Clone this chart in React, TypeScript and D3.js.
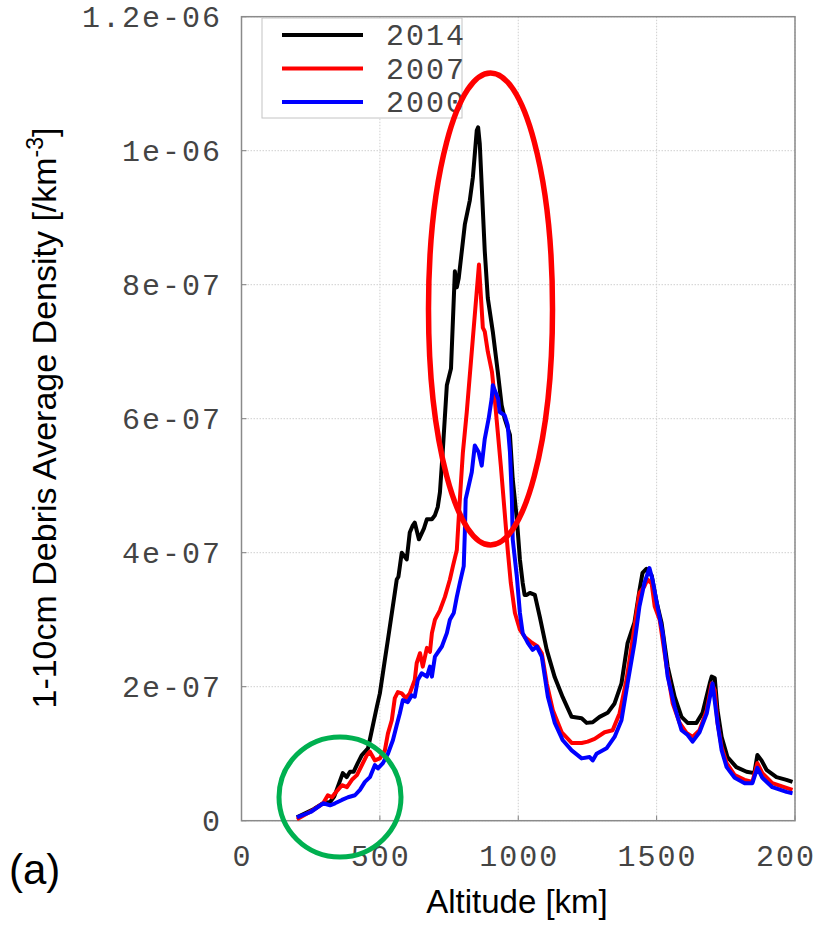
import React from 'react';
import * as d3 from 'd3';

const W = 817;
const H = 926;
const UNIT = 1e-7;

const xTicks = [0, 500, 1000, 1500, 2000];
const xTickLabels = ['0', '500', '1000', '1500', '2000'];
const yTicks = [0, 2e-7, 4e-7, 6e-7, 8e-7, 1e-6, 1.2e-6];
const yTickLabels = ['0', '2e-07', '4e-07', '6e-07', '8e-07', '1e-06', '1.2e-06'];

const seriesNames = ['2014', '2007', '2000'];
const seriesColors = ['#000000', '#ff0000', '#0000ff'];

// altitude [km] and density [x1e-7 /km^3]
const alt2014 = [200,260,295,320,335,366,380,392,405,420,435,457,471,489,500,518,529,554,561,567,579,597,608,618,626,641,659,670,688,699,709,717,727,742,757,771,778,785,796,807,825,836,850,855,861,879,890,908,926,940,951,970,980,995,1006,1016,1023,1031,1042,1060,1078,1103,1132,1161,1193,1229,1247,1269,1294,1323,1348,1373,1395,1420,1438,1449,1463,1482,1500,1518,1540,1565,1590,1612,1644,1666,1692,1699,1710,1720,1735,1756,1788,1825,1853,1864,1879,1897,1933,1969,1991];
const dens2014 = [0.05,0.17,0.26,0.28,0.36,0.71,0.65,0.73,0.73,0.86,0.98,1.08,1.35,1.70,1.9,2.4,2.7,3.4,3.6,3.64,4.0,3.9,4.3,4.4,4.45,4.2,4.36,4.5,4.5,4.56,4.68,4.9,5.5,6.5,6.75,8.2,7.96,8.1,8.5,8.9,9.26,9.6,10.3,10.35,10.1,8.5,7.8,7.3,6.7,6.2,6.0,5.76,5.1,4.5,3.9,3.55,3.37,3.37,3.4,3.37,3.04,2.55,2.14,1.84,1.55,1.53,1.46,1.47,1.55,1.61,1.75,2.05,2.65,2.96,3.44,3.7,3.76,3.66,3.26,2.95,2.3,1.85,1.55,1.46,1.46,1.61,2.05,2.15,2.13,1.65,1.25,0.95,0.8,0.73,0.71,0.98,0.9,0.76,0.65,0.61,0.58];

const alt2007 = [200,259,295,312,327,338,363,381,399,417,435,453,464,482,500,518,529,543,554,565,579,594,608,626,633,645,655,670,681,688,699,717,735,753,764,778,789,800,814,836,858,872,879,890,905,915,926,937,951,962,973,988,1006,1024,1045,1070,1085,1103,1125,1157,1193,1229,1251,1276,1312,1341,1366,1391,1413,1438,1456,1467,1482,1493,1511,1536,1558,1583,1608,1630,1655,1681,1699,1710,1720,1735,1753,1782,1818,1846,1864,1882,1918,1969,1991];
const dens2007 = [0.02,0.16,0.26,0.38,0.35,0.41,0.53,0.50,0.61,0.68,0.83,0.98,1.03,0.9,0.93,1.05,1.3,1.5,1.83,1.92,1.9,1.83,1.9,2.1,2.35,2.5,2.3,2.58,2.52,2.8,3.0,3.14,3.34,3.6,3.8,4.04,4.8,5.5,6.1,7.2,8.3,7.36,7.3,7.0,6.7,6.3,5.8,5.3,4.6,4.04,3.55,3.1,2.85,2.74,2.67,2.6,2.5,2.05,1.65,1.32,1.16,1.16,1.18,1.22,1.32,1.35,1.6,2.1,2.7,3.4,3.5,3.6,3.54,3.2,3.0,2.3,1.75,1.46,1.31,1.25,1.35,1.65,2.05,1.95,1.46,1.1,0.86,0.68,0.61,0.58,0.86,0.71,0.56,0.49,0.46];

const alt2000 = [200,250,295,320,338,363,385,410,428,446,464,482,493,511,529,547,561,572,583,601,615,626,637,651,670,681,688,699,724,742,753,767,778,789,803,807,810,821,832,843,857,868,879,893,904,908,927,933,951,962,970,977,980,995,1006,1016,1035,1052,1067,1085,1107,1132,1161,1193,1229,1258,1269,1283,1319,1348,1373,1395,1420,1438,1456,1474,1485,1503,1522,1540,1565,1590,1612,1630,1655,1681,1702,1720,1735,1753,1782,1818,1846,1864,1882,1918,1969,1991];
const dens2000 = [0.05,0.13,0.26,0.23,0.26,0.31,0.35,0.38,0.46,0.58,0.65,0.83,0.78,0.86,1.0,1.2,1.43,1.6,1.8,1.77,1.87,1.85,2.1,2.2,2.15,2.3,2.15,2.45,2.6,2.8,3.0,3.1,3.34,3.55,3.8,4.3,4.8,5.0,5.2,5.6,5.5,5.3,5.7,6.0,6.3,6.5,6.3,6.1,6.05,5.9,5.5,4.8,4.2,3.64,3.1,2.8,2.65,2.55,2.6,2.45,1.85,1.46,1.2,1.05,0.93,0.95,0.9,1.0,1.08,1.25,1.5,2.05,2.65,3.2,3.55,3.77,3.6,3.2,2.8,2.15,1.7,1.35,1.28,1.18,1.32,1.6,2.05,1.46,1.05,0.8,0.64,0.56,0.56,0.79,0.64,0.5,0.43,0.41];

const seriesAlt = [alt2014, alt2007, alt2000];
const seriesDens = [dens2014, dens2007, dens2000];

const PL = 241.5, PR = 795, PT = 16.7, PB = 820.7;
const MONO = '"Liberation Mono", "DejaVu Sans Mono", monospace';
const SANS = '"Liberation Sans", Arial, sans-serif';

export default function App() {
  const x = d3.scaleLinear().domain([0, 2000]).range([PL, PR]);
  const y = d3.scaleLinear().domain([0, 1.2e-6]).range([PB, PT]);
  const line = d3.line<[number, number]>().x(d => x(d[0])).y(d => y(d[1] * UNIT));

  const order = [0, 1, 2];

  return (
    <div>
      <style>{`body{margin:0;}`}</style>
      <svg width={W} height={H} style={{ display: 'block', overflow: 'hidden', background: '#fff' }}>
        {/* grid */}
        {xTicks.map((t, i) => (
          <line key={'gx' + i} x1={x(t)} x2={x(t)} y1={PT} y2={PB} stroke="#cfcfcf" strokeWidth={1} strokeDasharray="1.5,1.5" />
        ))}
        {yTicks.map((t, i) => (
          <line key={'gy' + i} x1={PL} x2={PR} y1={y(t)} y2={y(t)} stroke="#cfcfcf" strokeWidth={1} strokeDasharray="1.5,1.5" />
        ))}
        {/* tick marks */}
        {xTicks.map((t, i) => (
          <line key={'tx' + i} x1={x(t)} x2={x(t)} y1={PB} y2={PB - 5} stroke="#808080" strokeWidth={1} />
        ))}
        {yTicks.map((t, i) => (
          <line key={'ty' + i} x1={PL} x2={PL + 5} y1={y(t)} y2={y(t)} stroke="#808080" strokeWidth={1} />
        ))}
        {/* frame */}
        <rect x={PL} y={PT} width={PR - PL} height={PB - PT} fill="none" stroke="#8a8a8a" strokeWidth={1.5} />

        {/* data */}
        {order.map(s => (
          <path
            key={'s' + s}
            d={line(seriesAlt[s].map((a, i) => [a, seriesDens[s][i]] as [number, number])) || ''}
            fill="none"
            stroke={seriesColors[s]}
            strokeWidth={4}
            strokeLinejoin="round"
          />
        ))}

        {/* y tick labels */}
        {yTicks.map((t, i) => (
          <text key={'yl' + i} x={222} y={y(t) + 10} textAnchor="end" fontFamily={MONO} fontSize={30} letterSpacing={2} fill="#444">
            {yTickLabels[i]}
          </text>
        ))}
        {/* x tick labels */}
        {xTicks.map((t, i) => (
          <text key={'xl' + i} x={x(t) + 1} y={866} textAnchor="middle" fontFamily={MONO} fontSize={30} letterSpacing={2} fill="#444">
            {xTickLabels[i]}
          </text>
        ))}

        {/* legend */}
        <rect x={262} y={18} width={200} height={100} fill="#fff" stroke="#c4c4c4" strokeWidth={1} />
        {seriesNames.map((n, i) => (
          <g key={'lg' + i}>
            <line x1={282} x2={363} y1={35 + i * 33.5} y2={35 + i * 33.5} stroke={seriesColors[i]} strokeWidth={3.8} />
            <text x={386} y={45 + i * 33.5} fontFamily={MONO} fontSize={30} letterSpacing={2} fill="#444">{n}</text>
          </g>
        ))}

        {/* axis titles */}
        <text x={517} y={913} textAnchor="middle" fontFamily={SANS} fontSize={33} fill="#000">Altitude [km]</text>
        <text transform="translate(56,418) rotate(-90)" textAnchor="middle" fontFamily={SANS} fontSize={34} fill="#000">
          1-10cm Debris Average Density [/km<tspan dy={-13} fontSize={23}>-3</tspan><tspan dy={13}>]</tspan>
        </text>
        <text x={9} y={884} fontFamily={SANS} fontSize={42} fill="#000">(a)</text>

        {/* annotations */}
        <ellipse cx={490.5} cy={309} rx={62} ry={236} fill="none" stroke="#ff0000" strokeWidth={5.5} />
        <ellipse cx={340} cy={797} rx={61} ry={60} fill="none" stroke="#00b050" strokeWidth={5} />
      </svg>
    </div>
  );
}
